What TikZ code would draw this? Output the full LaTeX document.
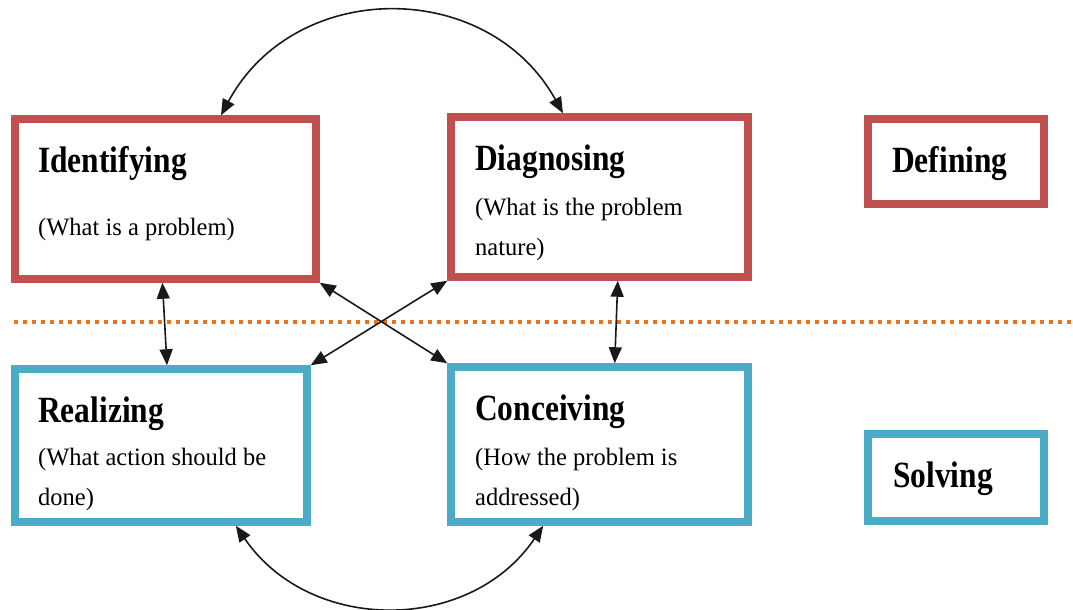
\documentclass[tikz,border=0pt]{standalone}
\usepackage{fontspec}
\setmainfont{Liberation Serif}
\newfontfamily\headfont[FakeStretch=0.85]{Liberation Serif}
\newfontfamily\subfont[FakeStretch=0.98]{Liberation Serif}
\usetikzlibrary{arrows.meta,calc}

\definecolor{defred}{HTML}{C0504D}
\definecolor{solvblue}{HTML}{4BACC6}
\definecolor{divorange}{RGB}{232,116,30}

\tikzset{
  box/.style={draw, line width=7.5pt, inner sep=0pt, fill=white},
  redbox/.style={box, draw=defred},
  bluebox/.style={box, draw=solvblue},
  head/.style={anchor=base west, inner sep=0pt,
    font=\headfont\bfseries\fontsize{37}{40}\selectfont},
  sub/.style={anchor=base west, inner sep=0pt,
    font=\subfont\fontsize{25}{40}\selectfont},
  tip/.tip={Triangle[length=16pt,width=13pt]},
  link/.style={line width=1.6pt, black!90, tip-tip},
}

\begin{document}
\begin{tikzpicture}[x=1pt, y=-1pt]
\useasboundingbox (0,0) rectangle (1073,610);

% dividing line between defining and solving
\coordinate (divL) at (14,322);
\coordinate (divR) at (1073,322);
\draw[divorange, line width=4pt, dash pattern=on 4pt off 5pt] (divL) -- (divR);

% process boxes
\node[redbox, minimum width=301pt, minimum height=160pt] (ident) at (165.5,199) {};
\node[redbox, minimum width=297pt, minimum height=160pt] (diag) at (599.5,197) {};
\node[bluebox, minimum width=292pt, minimum height=153pt] (real) at (161,445.5) {};
\node[bluebox, minimum width=297pt, minimum height=155pt] (conc) at (599.5,444.5) {};
\node[redbox, minimum width=176pt, minimum height=85pt] (defin) at (956,161.5) {};
\node[bluebox, minimum width=176pt, minimum height=87pt] (solv) at (956,477.5) {};

% texts
\node[head] (identH) at (38,172) {Identifying};
\node[sub]  (identS) at (38,235) {(What is a problem)};
\node[head] (diagH) at (475,170) {Diagnosing};
\node[sub]  (diagS1) at (475,215) {(What is the problem};
\node[sub]  (diagS2) at (475,255) {nature)};
\node[head] (realH) at (38,422) {Realizing};
\node[sub]  (realS1) at (38,465) {(What action should be};
\node[sub]  (realS2) at (38,505) {done)};
\node[head] (concH) at (475,420) {Conceiving};
\node[sub]  (concS1) at (475,465) {(How the problem is};
\node[sub]  (concS2) at (475,505) {addressed)};
\node[head] (definH) at (892,172) {Defining};
\node[head] (solvH) at (893,487) {Solving};

% connector end points on the box edges
\coordinate (ta) at ($(ident.north west)!0.68!(ident.north east)$);
\coordinate (tb) at ($(diag.north west)!0.38!(diag.north east)$);
\coordinate (ba) at ($(real.south west)!0.75!(real.south east)$);
\coordinate (bb) at ($(conc.south west)!0.315!(conc.south east)$);
\coordinate (la) at ($(ident.south west)!0.49!(ident.south east)$);
\coordinate (lb) at ($(real.north west)!0.52!(real.north east)$);
\coordinate (ra) at ($(diag.south west)!0.56!(diag.south east)$);
\coordinate (rb) at ($(conc.north west)!0.55!(conc.north east)$);

% connectors
\draw[link] (ta) .. controls (295,-22) and (488,-22) .. (tb);
\draw[link] (ba) .. controls (310,634) and (470,634) .. (bb);
\draw[link] (la) -- (lb);
\draw[link] (ra) -- (rb);
\draw[link] (ident.south east) -- (conc.north west);
\draw[link] (diag.south west) -- (real.north east);
\end{tikzpicture}
\end{document}
